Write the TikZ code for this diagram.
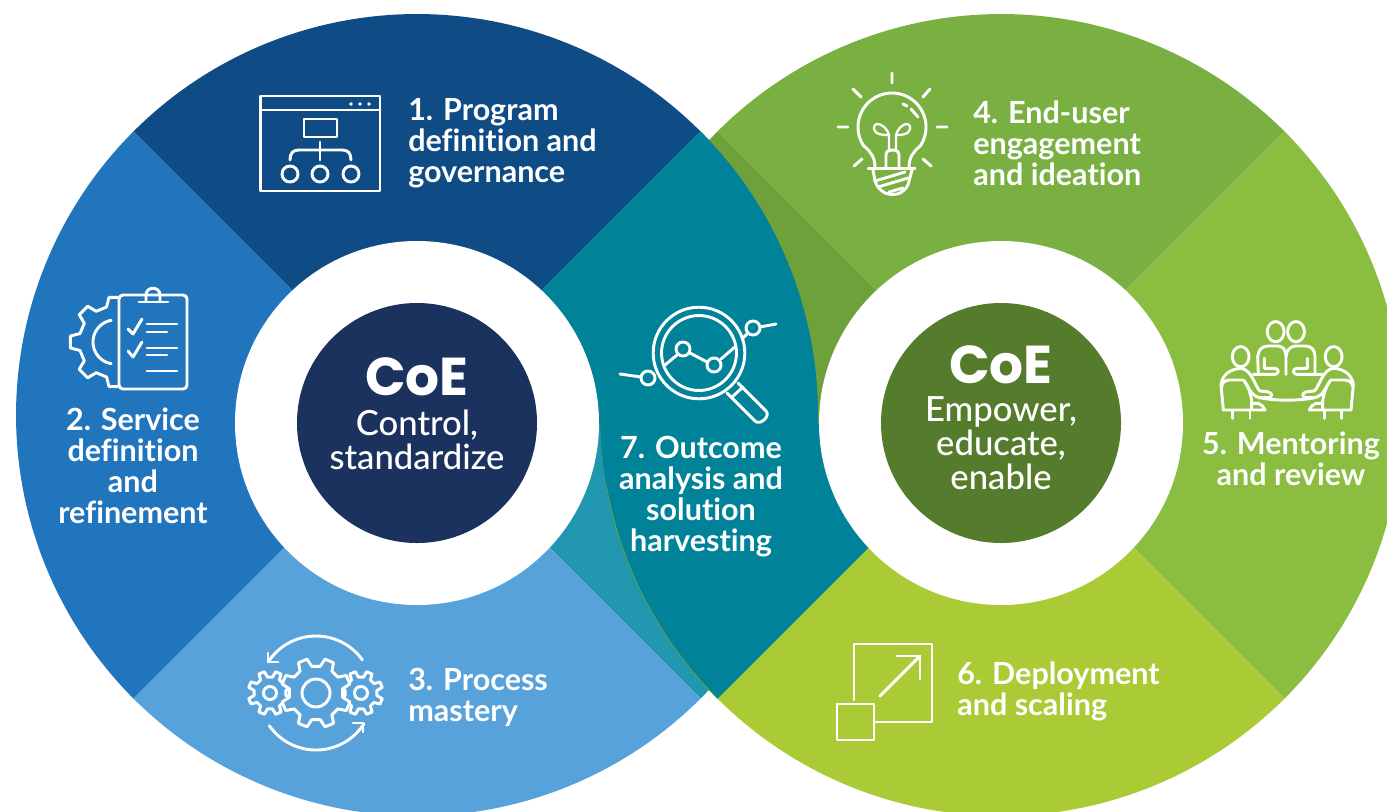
\documentclass[tikz,border=0pt]{standalone}
\usepackage{fontspec}
\newfontfamily\labfont[Ligatures=NoCommon]{Lato Bold}
\newfontfamily\reg[Ligatures=NoCommon]{Lato Medium}
\newfontfamily\coe{Poppins Bold}
\definecolor{cnavy}{HTML}{0F4C85}
\definecolor{cblue}{HTML}{2075BC}
\definecolor{clblue}{HTML}{57A2DB}
\definecolor{clteal}{HTML}{2097AE}
\definecolor{cteal}{HTML}{008299}
\definecolor{cgreen}{HTML}{7AB042}
\definecolor{clime}{HTML}{8ABD40}
\definecolor{cyg}{HTML}{AACB36}
\definecolor{colive}{HTML}{6FA13B}
\definecolor{cdnavy}{HTML}{1B325F}
\definecolor{cdgreen}{HTML}{557C2C}
\newcommand{\sectorfill}[4]{\fill[#4] (#1,415) -- plot[domain=#2:#3,samples=80] ({#1+401*cos(\x)},{415+401*sin(\x)}) -- cycle;}
% gear: style cx cy router rroot teeth offset
\newcommand{\drawgear}[7]{%
  \pgfmathsetmacro{\gs}{360/#6}%
  \pgfmathtruncatemacro{\gla}{#6-1}%
  \draw[#1] ({#2+#5*cos(#7-\gs*0.30)},{#3+#5*sin(#7-\gs*0.30)})
  \foreach \k in {0,...,\gla}{
    -- ({#2+#5*cos(#7+\k*\gs-\gs*0.30)},{#3+#5*sin(#7+\k*\gs-\gs*0.30)})
    -- ({#2+#4*cos(#7+\k*\gs-\gs*0.17)},{#3+#4*sin(#7+\k*\gs-\gs*0.17)})
    -- ({#2+#4*cos(#7+\k*\gs+\gs*0.17)},{#3+#4*sin(#7+\k*\gs+\gs*0.17)})
    -- ({#2+#5*cos(#7+\k*\gs+\gs*0.30)},{#3+#5*sin(#7+\k*\gs+\gs*0.30)})
  } -- cycle;}
\newcommand{\personL}{%
  \draw[ico] (40,285) -- (33,210) .. controls (36,180) and (60,162) .. (92,160) .. controls (125,162) and (135,215) .. (150,228) -- (172,230) .. controls (190,234) and (190,248) .. (170,248) -- (148,248) .. controls (118,240) and (112,205) .. (100,195) -- (60,195) .. controls (45,195) and (37,202) .. (35,215);
  \draw[ico] (40,285) -- (125,285) -- (125,258) .. controls (122,235) and (115,215) .. (104,200);
  \draw[ico] (125,265) -- (145,265) .. controls (155,268) and (162,276) .. (165,285) -- (125,285);
  \draw[ico] (68,287) -- (68,310) (120,287) -- (120,310);
  \draw[ico] plot[domain=0:360,samples=40] ({92+25*cos(\x)},{125+30*sin(\x)});
}
\newcommand{\headat}[2]{\draw[ico] plot[domain=0:360,samples=40] ({#1+25*cos(\x)},{#2+30*sin(\x)});}
\tikzset{
  ico/.style={white,line width=2.2pt,line cap=round,line join=round},
  lab/.style={white,inner sep=0,font=\labfont\fontsize{22.9}{23.25}\selectfont},
  big/.style={white,inner sep=0,align=center,font=\reg\fontsize{26}{25.5}\selectfont},
  coetxt/.style={white,inner sep=0,text height=21pt,text depth=0pt,font=\coe\fontsize{40}{40}\selectfont}
}
\begin{document}
\begin{tikzpicture}[x=0.75pt,y=-0.75pt]
\useasboundingbox (0,0) rectangle (1387,811);
\clip (0,0) rectangle (1387,811);
% left wheel
\sectorfill{417}{-135}{-45}{cnavy}
\sectorfill{417}{135}{225}{cblue}
\sectorfill{417}{45}{135}{clblue}
\sectorfill{417}{-45}{45}{clteal}
% right wheel
\sectorfill{1001}{-135}{-45}{cgreen}
\sectorfill{1001}{-45}{45}{clime}
\sectorfill{1001}{45}{135}{cyg}
\sectorfill{1001}{135}{225}{colive}
% overlap, teal
\begin{scope}
  \clip (0,423) rectangle (1387,811);
  \sectorfill{1001}{135}{225}{cteal}
  \draw[colive,line width=0.5pt] plot[domain=135:170,samples=30] ({1001+401*cos(\x)},{415+401*sin(\x)});
\end{scope}
\begin{scope}
  \clip (0,0) rectangle (1387,423);
  \sectorfill{417}{-45}{45}{cteal}
\end{scope}
% hubs
\fill[white] (417,423) circle [radius=182pt*0.75];
\fill[white] (1001,423) circle [radius=182pt*0.75];
\fill[cdnavy] (417,423) circle [radius=120pt*0.75];
\fill[cdgreen] (1001,423) circle [radius=120pt*0.75];
% hub texts
\node[coetxt] (c1) at (417,381) {CoE};
\node[big] (t1) at (417,439.5) {Control,\\standardize};
\node[coetxt] (c2) at (1001,369) {CoE};
\node[big] (t2) at (1001,443.5) {Empower,\\educate,\\enable};
% labels
\node[lab,anchor=west,align=left] (l1) at (408,143) {1. Program\\definition and\\governance};
\node[lab,align=center] (l2) at (133,466) {2. Service\\definition\\and\\refinement};
\node[lab,anchor=west,align=left] (l3) at (408,697) {3. Process\\mastery};
\node[lab,anchor=west,align=left] (l4) at (973,143) {4. End-user\\engagement\\and ideation};
\node[lab,align=center] (l5) at (1291,459) {5. Mentoring\\and review};
\node[lab,anchor=west,align=left] (l6) at (957,691) {6. Deployment\\and scaling};
\node[lab,align=center] (l7) at (701,497) {7. Outcome\\analysis and\\solution\\harvesting};
% icon 1
\draw[ico] (260.5,96) rectangle (380,191);
\draw[ico] (260.5,110) -- (380,110);
\fill[white] (351,104) circle [radius=1.4pt] (360,104) circle [radius=1.4pt] (369,104) circle [radius=1.4pt];
\draw[ico] (304,119) rectangle (337,137);
\draw[ico] (320,142) -- (320,160);
\draw[ico] (290,160) .. controls (290,153) and (293,150) .. (299,150) -- (342,150) .. controls (348,150) and (351,153) .. (351,160);
\draw[ico] (290,174) circle [radius=6pt] (320,174) circle [radius=6pt] (351,174) circle [radius=6pt];
% icon 2
\begin{scope}
  \clip (60,280) rectangle (118,400);
  \drawgear{ico}{115}{342}{45}{36}{8}{0}
\end{scope}
\draw[ico] plot[domain=-80:80,samples=30] ({115-22*cos(\x)},{342+22*sin(\x)});
\draw[ico,rounded corners=3pt] (119,295) rectangle (187,389);
\draw[ico] (139,302) -- (168,302);
\draw[ico] (146,301) -- (146,295) .. controls (146,286) and (160,286) .. (160,295) -- (160,301);
\draw[ico] (128,329) -- (133,334) -- (142,319);
\draw[ico] (128,351) -- (133,357) -- (142,342);
\draw[ico] (147,324) -- (177,324) (147,332) -- (167,332) (147,348) -- (177,348) (147,355) -- (167,355) (147,371) -- (177,371);
% icon 3
\drawgear{ico}{270}{693}{22}{16}{8}{22.5}
\drawgear{ico}{361}{693}{22}{16}{8}{22.5}
\draw[ico] (270,693) circle [radius=4.9pt] (361,693) circle [radius=4.9pt];
\drawgear{ico,fill=clblue}{316}{693}{35}{27}{8}{22.5}
\draw[ico] (316,693) circle [radius=10.5pt];
\draw[ico] plot[domain=-35.6:-147,samples=40] ({316+57*cos(\x)},{693+57*sin(\x)});
\draw[ico] (268,653) -- (268,662) -- (278,662);
\draw[ico] plot[domain=145:32.5,samples=40] ({316+57*cos(\x)},{693+57*sin(\x)});
\draw[ico] (353,723) -- (363,723) -- (363,732);
% icon 4
\draw[ico] (892,73) -- (892,83) (853,89) -- (861,97) (930,89) -- (923,97) (838,127) -- (848,127) (937,127) -- (947,127) (854,166) -- (862,159) (931,166) -- (923,159);
\draw[ico] (875,167) .. controls (875,157) and (870,151) .. (864,146) -- plot[domain=146:394,samples=60] ({892+34*cos(\x)},{127+34*sin(\x)}) .. controls (914,151) and (909,157) .. (909,167);
\draw[ico] (868,168.5) -- (915,168.5);
\draw[ico] (873,170) -- (875,181) .. controls (877,187) and (880,190) .. (885,193) .. controls (890,195) and (896,195) .. (900,193) .. controls (905,190) and (908,187) .. (909,181) -- (912,170);
\draw[ico] (875,181) -- (905,172) (878,187) -- (908,178) (889,192) -- (903,188);
\draw[ico] (903,104) -- (907,106) (911,109) -- (918,117);
\draw[ico] (886,167) -- (886,155) .. controls (886,151) and (889,150) .. (892,150) .. controls (896,150) and (899,151) .. (899,155) -- (899,167);
\draw[ico,line width=1.7pt] (889,150) -- (889,135) .. controls (886,124) and (873,120) .. (874,129) .. controls (875,135) and (883,135) .. (889,135);
\draw[ico,line width=1.7pt] (896,150) -- (896,135) .. controls (899,124) and (911,120) .. (910,129) .. controls (909,135) and (901,135) .. (896,135);
% icon 5
\begin{scope}[shift={(1210,315)},x=.25pt,y=-.25pt]
  \headat{197}{50}
  \headat{258}{50}
  \draw[ico] (145,178) -- (143,125) .. controls (145,105) and (155,93) .. (175,93) -- (205,93) .. controls (220,95) and (228,105) .. (228,125) -- (228,178);
  \draw[ico] (228,125) .. controls (230,105) and (240,95) .. (255,93) -- (285,93) .. controls (305,93) and (315,105) .. (315,125) -- (315,178);
  \draw[ico] (163,130) -- (163,160) -- (195,160) .. controls (208,162) and (208,176) .. (195,178) -- (130,178);
  \draw[ico] (292,130) -- (292,160) -- (260,160) .. controls (247,162) and (247,176) .. (260,178) -- (335,178);
  \draw[ico] (150,248) .. controls (195,258) and (265,258) .. (313,248);
  \personL
\end{scope}
\begin{scope}[shift={(1364.33,315)},x=-.25pt,y=-.25pt]
  \personL
\end{scope}
% icon 6
\draw[ico] (854,700) -- (854,644) -- (932,644) -- (932,722) -- (876,722);
\draw[ico] (837,704) rectangle (874,740);
\draw[ico] (880,696) -- (920,656);
\draw[ico] (897,656) -- (920,656) -- (920,679);
% icon 7
\draw[ico] (699,353) circle [radius=34.35pt] (699,353) circle [radius=28.1pt];
\draw[ico] (683,349) circle [radius=5.25pt] (714,365) circle [radius=5.25pt] (753,328) circle [radius=5.25pt] (648,378) circle [radius=5.25pt];
\draw[ico] (620,374) -- (641,377) (665,365) -- (677,355) (690,353) -- (707,362) (721,359) -- (736,346) (742,339) -- (748,333) (760,327) -- (776,324);
\draw[ico] (727,393) -- (755,421) .. controls (760,426) and (771,416) .. (766,411) -- (738,383);
\draw[ico] (732,397) -- (743,387);
\end{tikzpicture}
\end{document}
